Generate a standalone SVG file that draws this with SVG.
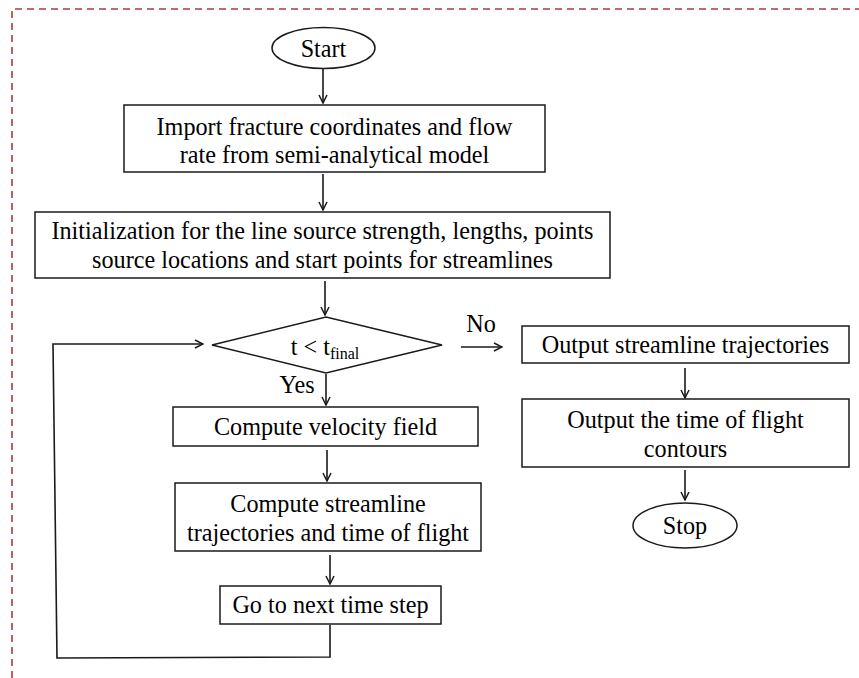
<svg xmlns="http://www.w3.org/2000/svg" width="859" height="678" viewBox="0 0 859 678">
  <style>
    .frame { fill: none; stroke: #b23a3a; stroke-width: 1.6; stroke-dasharray: 7 5; }
    .node { fill: #ffffff; stroke: #1a1a1a; stroke-width: 1.5; }
    .lbl { font-family: 'Liberation Serif', 'Times New Roman', Times, 'DejaVu Serif', serif; font-size: 24.2px; fill: #000; text-anchor: middle; }
    .sub { font-size: 16px; }
    .edge { fill: none; stroke: #1a1a1a; stroke-width: 1.6; }
  </style>
  <defs>
    <marker id="arrow" viewBox="0 0 10 10" refX="9" refY="5" markerWidth="10" markerHeight="10" markerUnits="userSpaceOnUse" orient="auto">
      <path d="M1,1 L9,5 L1,9" fill="none" stroke="#1a1a1a" stroke-width="1.5"/>
    </marker>
  </defs>

  <rect width="859" height="678" fill="#ffffff"/>

  <!-- dashed frame -->
  <path class="frame" d="M12,678 V9 H859"/>

  <!-- connectors -->
  <g id="connectors">
    <line class="edge" x1="323" y1="69" x2="323" y2="103" marker-end="url(#arrow)"/>
    <line class="edge" x1="323" y1="174" x2="323" y2="210" marker-end="url(#arrow)"/>
    <line class="edge" x1="325" y1="281" x2="325" y2="315" marker-end="url(#arrow)"/>
    <line class="edge" x1="326" y1="374" x2="326" y2="405" marker-end="url(#arrow)"/>
    <line class="edge" x1="327" y1="450" x2="327" y2="481" marker-end="url(#arrow)"/>
    <line class="edge" x1="330" y1="555" x2="330" y2="584" marker-end="url(#arrow)"/>
    <polyline class="edge" points="330,625 330,657 57,658 53,344 203,344" marker-end="url(#arrow)"/>
    <line class="edge" x1="461" y1="347" x2="502" y2="347" marker-end="url(#arrow)"/>
    <line class="edge" x1="685" y1="368" x2="685" y2="398" marker-end="url(#arrow)"/>
    <line class="edge" x1="685" y1="470" x2="685" y2="500" marker-end="url(#arrow)"/>
    <text class="lbl" x="481" y="332">No</text>
    <text class="lbl" x="297" y="393">Yes</text>
  </g>

  <g id="start">
    <ellipse class="node" cx="323.5" cy="48" rx="51.5" ry="20.5"/>
    <text class="lbl" x="323.5" y="57">Start</text>
  </g>

  <g id="import">
    <rect class="node" x="124" y="105" width="421" height="67"/>
    <text class="lbl" x="334.5" y="135">Import fracture coordinates and flow</text>
    <text class="lbl" x="334.5" y="163">rate from semi-analytical model</text>
  </g>

  <g id="init">
    <rect class="node" x="35" y="212" width="575" height="66"/>
    <text class="lbl" x="322.5" y="239">Initialization for the line source strength, lengths, points</text>
    <text class="lbl" x="322.5" y="268">source locations and start points for streamlines</text>
  </g>

  <g id="decision">
    <polygon class="node" points="212,345 326,317 442,345 326,373"/>
    <text class="lbl" x="325" y="355">t &lt; t<tspan class="sub" dy="4">final</tspan></text>
  </g>

  <g id="velocity">
    <rect class="node" x="173" y="407" width="305" height="39"/>
    <text class="lbl" x="325.5" y="435">Compute velocity field</text>
  </g>

  <g id="streamline">
    <rect class="node" x="175" y="483" width="306" height="68"/>
    <text class="lbl" x="328" y="512">Compute streamline</text>
    <text class="lbl" x="328" y="541">trajectories and time of flight</text>
  </g>

  <g id="next-step">
    <rect class="node" x="220" y="586" width="221" height="38"/>
    <text class="lbl" x="330.5" y="613">Go to next time step</text>
  </g>

  <g id="output-trajectories">
    <rect class="node" x="522" y="326" width="327" height="37"/>
    <text class="lbl" x="685.5" y="353">Output streamline trajectories</text>
  </g>

  <g id="output-tof">
    <rect class="node" x="522" y="399" width="327" height="68"/>
    <text class="lbl" x="685.5" y="428">Output the time of flight</text>
    <text class="lbl" x="685.5" y="457">contours</text>
  </g>

  <g id="stop">
    <ellipse class="node" cx="685" cy="525.5" rx="52" ry="22.5"/>
    <text class="lbl" x="685" y="534">Stop</text>
  </g>
</svg>
